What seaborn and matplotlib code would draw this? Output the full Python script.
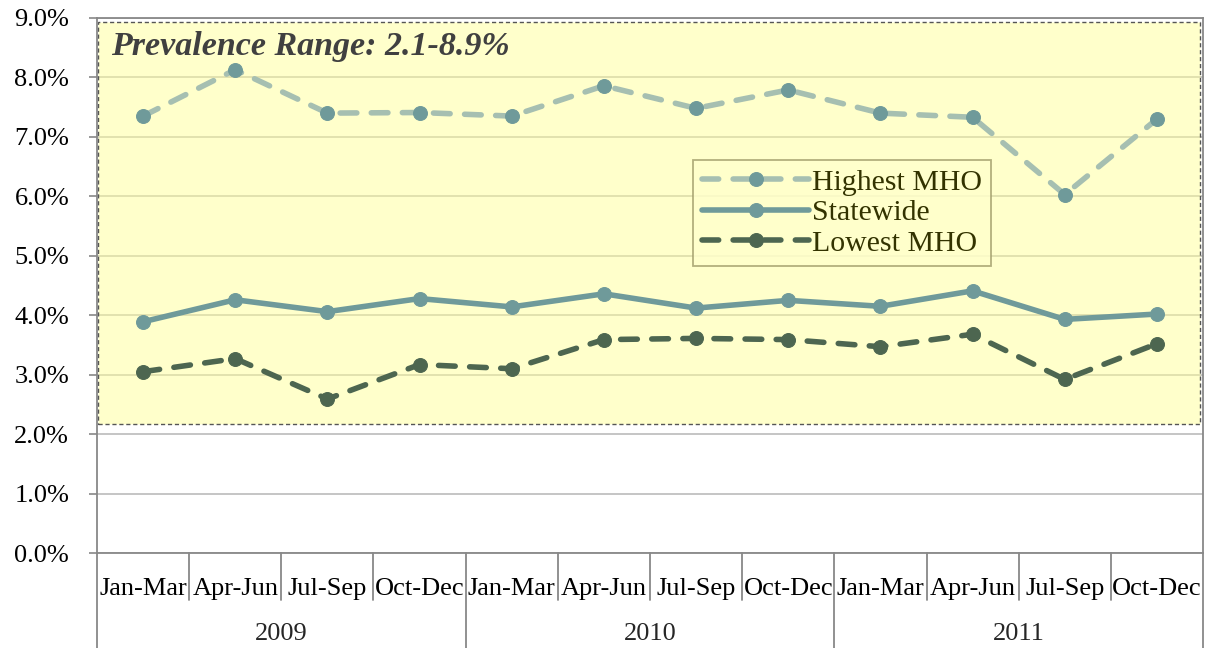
import seaborn as sns
import pandas as pd
import matplotlib.pyplot as plt
from matplotlib.ticker import MultipleLocator, FuncFormatter

quarters = ["Jan-Mar", "Apr-Jun", "Jul-Sep", "Oct-Dec"] * 3
years = ["2009", "2010", "2011"]

highest = [7.35, 8.13, 7.40, 7.41, 7.35, 7.86, 7.48, 7.79, 7.40, 7.33, 6.03, 7.30]
statewide = [3.89, 4.26, 4.06, 4.28, 4.14, 4.36, 4.12, 4.25, 4.15, 4.41, 3.93, 4.02]
lowest = [3.05, 3.27, 2.59, 3.17, 3.10, 3.59, 3.61, 3.59, 3.47, 3.68, 2.92, 3.52]

range_low, range_high = 2.17, 8.93

sns.set_theme(style="white")
plt.rcParams["font.family"] = ["Liberation Serif", "DejaVu Serif"]

df = pd.DataFrame({"idx": range(12), "Highest MHO": highest,
                   "Statewide": statewide, "Lowest MHO": lowest})

fig = plt.figure(figsize=(12.07, 6.48), dpi=100)
ax = fig.add_axes([97 / 1207, 95 / 648, 1106 / 1207, 535 / 648])

# yellow prevalence band (semi transparent so gridlines show through)
ax.axhspan(range_low, range_high, xmin=0.001, xmax=0.997, facecolor=(1, 1, 0.6, 0.5),
           edgecolor="#555555", linestyle=(0, (3, 2)), linewidth=1.0, zorder=1)

dash = (0, (3.0, 2.6))
sns.lineplot(data=df, x="idx", y="Highest MHO", ax=ax, color="#a6bfb1", lw=4.0,
             linestyle=dash, dash_capstyle="round", marker="o", markersize=10,
             markerfacecolor="#6f9a9a", markeredgecolor="#6f9a9a", label="Highest MHO", zorder=3)
sns.lineplot(data=df, x="idx", y="Statewide", ax=ax, color="#6f9a9a", lw=4.0,
             marker="o", markersize=10, markerfacecolor="#6f9a9a", markeredgecolor="#6f9a9a",
             label="Statewide", zorder=3)
sns.lineplot(data=df, x="idx", y="Lowest MHO", ax=ax, color="#4d6650", lw=4.0,
             linestyle=dash, dash_capstyle="round", marker="o", markersize=10,
             markerfacecolor="#4d6650", markeredgecolor="#4d6650", label="Lowest MHO", zorder=3)

ax.set_ylim(0, 9)
ax.set_xlim(-0.5, 11.5)
ax.yaxis.set_major_locator(MultipleLocator(1))
ax.yaxis.set_major_formatter(FuncFormatter(lambda v, p: f"{v:.1f}%"))
ax.grid(axis="y", color="#c0c0c0", linewidth=1.3, zorder=0)
ax.set_axisbelow(True)
for s in ax.spines.values():
    s.set_color("#888888")
    s.set_linewidth(1.3)
ax.tick_params(axis="y", left=True, length=6, width=1.2, color="#888888",
               labelsize=19, pad=14, labelcolor="black")
ax.set_xticks(range(12))
ax.set_xticklabels(quarters)
ax.tick_params(axis="x", bottom=False, labelsize=19, pad=12, labelcolor="black")
ax.set_xlabel("")
ax.set_ylabel("")

# multi-level category separators
tr = ax.get_xaxis_transform()
for i in range(13):
    bottom = -0.2 if i % 4 == 0 else -47 / 535
    ax.plot([i - 0.5, i - 0.5], [0, bottom], transform=tr, color="#888888",
            lw=1.3, clip_on=False)
for k, y in enumerate(years):
    ax.text(4 * k + 1.5, -0.152, y, transform=tr, ha="center", va="center", fontsize=19)

ax.text(0.013, 0.975, "Prevalence Range: 2.1-8.9%", transform=ax.transAxes,
        fontsize=24.5, fontweight="bold", fontstyle="italic", color="#404040",
        ha="left", va="top")

leg = ax.legend(loc="upper left", bbox_to_anchor=(596 / 1106, (553 - 160) / 535),
                fontsize=21.5, frameon=True, fancybox=False, handlelength=3.6,
                handletextpad=0.1, labelspacing=0.12, borderpad=0.3, borderaxespad=0)
leg.get_frame().set_facecolor("#ffffcc")
leg.get_frame().set_edgecolor("#a09c6a")
leg.get_frame().set_linewidth(1.3)
for t in leg.get_texts():
    t.set_color("#333300")

fig.savefig("out.png", dpi=100)
